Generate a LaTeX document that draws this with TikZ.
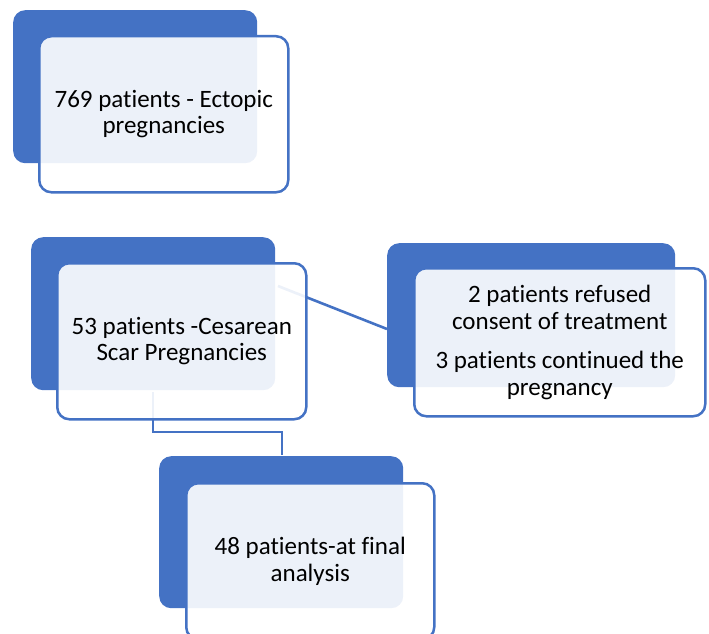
\documentclass[tikz,border=0pt]{standalone}
\usepackage{fontspec}
\setmainfont{Carlito}[Ligatures=NoCommon]
\definecolor{accent}{HTML}{4472C4}
\begin{document}
\begin{tikzpicture}[x=1pt,y=-1pt,
  backbox/.style={fill=accent, draw=none, rounded corners=12pt, inner sep=0pt, anchor=north west},
  frontbox/.style={fill=white, fill opacity=0.9, text opacity=1, draw=accent, line width=2.5pt,
    rounded corners=12pt, inner sep=0pt, anchor=north west, align=center,
    font=\fontsize{25}{26.5}\selectfont, text=black},
  link/.style={draw=accent, line width=2.6pt}]
\useasboundingbox (0,0) rectangle (709,634);
% back boxes
\node[backbox, minimum width=244pt, minimum height=153pt] (b1) at (13,10) {};
\node[backbox, minimum width=244pt, minimum height=153pt] (b2) at (31,237) {};
\node[backbox, minimum width=288pt, minimum height=144pt] (b3) at (387,243) {};
\node[backbox, minimum width=244pt, minimum height=152pt] (b4) at (159,456) {};
% connectors
\coordinate (c2r) at (278,286);
\coordinate (c3l) at (387,329);
\coordinate (c2b) at (153,392);
\coordinate (c4t) at (282,455);
\draw[link] (c2r) -- (c3l);
\draw[link] (c2b) -- (153,432) -| (c4t);
% front boxes
\node[frontbox, minimum width=249pt, minimum height=156pt] (f1) at (38,35) {769 patients - Ectopic\\pregnancies};
\node[frontbox, minimum width=249pt, minimum height=156pt] (f2) at (56,262) {53 patients -Cesarean\\Scar Pregnancies};
\node[frontbox, minimum width=291pt, minimum height=148pt] (f3) at (413,267) {2 patients refused\\consent of treatment\\[13pt]3 patients continued the\\pregnancy};
\node[frontbox, minimum width=248pt, minimum height=156pt] (f4) at (185,482) {48 patients-at final\\analysis};
\end{tikzpicture}
\end{document}
